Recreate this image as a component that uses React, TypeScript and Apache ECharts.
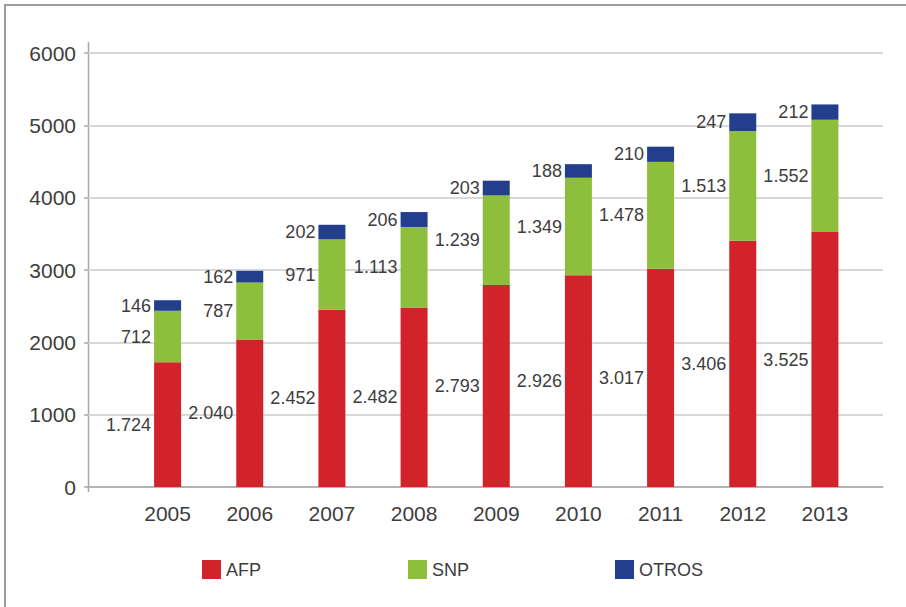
import React, { useEffect, useRef } from "react";
import * as echarts from "echarts";

const categories = ["2005", "2006", "2007", "2008", "2009", "2010", "2011", "2012", "2013"];
const afp = [1724, 2040, 2452, 2482, 2793, 2926, 3017, 3406, 3525];
const snp = [712, 787, 971, 1113, 1239, 1349, 1478, 1513, 1552];
const otros = [146, 162, 202, 206, 203, 188, 210, 247, 212];
const seriesNames = ["AFP", "SNP", "OTROS"];
const colors = ["#d2232a", "#8dbe3c", "#233e8c"];
const legendLefts = [202, 408, 615];

const FONT = "'Liberation Sans', Arial, Helvetica, sans-serif";
const TEXT = "#3d3d3d";

function fmt(v: number): string {
  return String(v).replace(/\B(?=(\d{3})+(?!\d))/g, ".");
}

export default function App() {
  const ref = useRef<HTMLDivElement>(null);
  useEffect(() => {
    if (!ref.current) return;
    const chart = echarts.init(ref.current, undefined, { renderer: "svg" });
    const values = [afp, snp, otros];
    chart.setOption({
      animation: false,
      backgroundColor: "#ffffff",
      textStyle: { fontFamily: FONT },
      grid: [
        { left: 88, right: 23, top: 53, bottom: 120 },
        { left: 126.5, right: 40, top: 53, bottom: 120 },
      ],
      xAxis: [
        {
          gridIndex: 0,
          type: "value",
          min: 0,
          max: 1,
          axisLine: { show: true, lineStyle: { color: "#a8a8a8", width: 1.5 } },
          axisTick: { show: false },
          axisLabel: { show: false },
          splitLine: { show: false },
        },
        {
          gridIndex: 1,
          type: "category",
          data: categories,
          axisLine: { show: false },
          axisTick: { show: false },
          axisLabel: { fontSize: 21, color: TEXT, margin: 16, fontFamily: FONT },
        },
      ],
      yAxis: [
        {
          gridIndex: 0,
          type: "value",
          min: 0,
          max: 6000,
          interval: 1000,
          axisLine: { show: false },
          axisTick: { show: true, length: 4, lineStyle: { color: "#a8a8a8", width: 1.5 } },
          axisLabel: {
            fontSize: 21,
            color: TEXT,
            margin: 12,
            fontFamily: FONT,
            formatter: (v: number) => String(v),
          },
          splitLine: { show: true, lineStyle: { color: "#cbcbcb", width: 1.5 } },
        },
        {
          gridIndex: 1,
          type: "value",
          min: 0,
          max: 6000,
          interval: 1000,
          show: false,
          splitLine: { show: false },
        },
      ],
      legend: seriesNames.map((n, i) => ({
        data: [n],
        left: legendLefts[i],
        top: 560,
        padding: 0,
        itemWidth: 19,
        itemHeight: 19,
        itemGap: 6,
        icon: "rect",
        textStyle: { fontSize: 18, color: TEXT, fontFamily: FONT },
      })),
      graphic: [
        {
          type: "rect",
          shape: { x: 5, y: 5, width: 1200, height: 1200 },
          style: { fill: "none", stroke: "#9d9d9d", lineWidth: 2 },
          silent: true,
        },
        {
          type: "line",
          shape: { x1: 88.5, y1: 42, x2: 88.5, y2: 492 },
          style: { stroke: "#a8a8a8", lineWidth: 1.5 },
          silent: true,
        },
      ],
      series: seriesNames.map((n, i) => ({
        name: n,
        type: "bar",
        stack: "total",
        xAxisIndex: 1,
        yAxisIndex: 1,
        barWidth: 27,
        data: values[i],
        itemStyle: { color: colors[i] },
        label: {
          show: true,
          position: "left",
          distance: 3,
          fontSize: 18,
          color: TEXT,
          fontFamily: FONT,
          formatter: (p: any) => fmt(p.value),
        },
      })),
    });
    return () => chart.dispose();
  }, []);
  return (
    <div
      ref={ref}
      style={{ position: "fixed", left: 0, top: 0, width: 906, height: 607 }}
    />
  );
}
